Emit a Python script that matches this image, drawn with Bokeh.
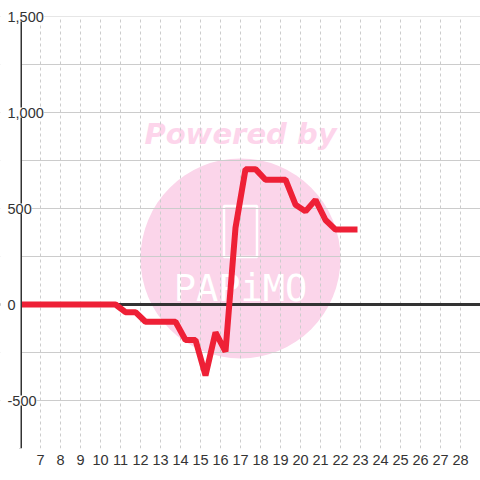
from bokeh.plotting import figure
from bokeh.models import (Range1d, FixedTicker, Grid, Span, LabelSet,
                          BoxAnnotation, ColumnDataSource)
from bokeh.embed import file_html
from bokeh.resources import INLINE
from bokeh.core.properties import value

# ---- data ----
x_vals = [6, 10.75, 11.25, 11.75, 12.25, 13.75, 14.25, 14.75, 15.25, 15.75,
          16.25, 16.75, 17.25, 17.75, 18.25, 19.25, 19.75, 20.25, 20.75,
          21.25, 21.75, 22.85]
y_vals = [0, 0, -40, -40, -90, -90, -185, -185, -370, -145,
          -245, 400, 705, 705, 650, 650, 520, 485, 545,
          440, 390, 390]
x_ticks = list(range(7, 29))
x_tick_labels = [str(t) for t in x_ticks]
y_grid_ticks = [-750, -500, -250, 0, 250, 500, 750, 1000, 1250, 1500]
y_label_ticks = [1500, 1000, 500, 0, -500]
y_tick_labels = ["1,500", "1,000", "500", "0", "-500"]

AXIS_X = 6
Y_MIN, Y_MAX = -750, 1500
X_START, X_END = 5, 29
Y_START, Y_END = -750, 1500 + 16 / 0.192

p = figure(width=480, height=480, output_backend="svg", toolbar_location=None,
           x_range=Range1d(X_START, X_END), y_range=Range1d(Y_START, Y_END),
           y_axis_location=None,
           min_border_left=0, min_border_right=0, min_border_top=0,
           min_border_bottom=32)
p.outline_line_color = None
p.background_fill_color = "white"
p.border_fill_color = "white"

# watermark (below grid)
p.circle(x=[17], y=[240], radius=100, radius_units="screen",
         fill_color="#FBD5EA", line_color=None, level="image")
p.rect(x=[17], y=[380], width=33, height=51, width_units="screen",
       height_units="screen", fill_color=None, line_color="white",
       line_width=2.5, level="image")
p.text(x=[17], y=[85], text=["PAPiMO"], text_font=value("DejaVu Sans Mono"),
       text_font_size="37px", text_color="white", text_align="center",
       text_baseline="middle", level="image")
p.text(x=[17], y=[890], text=["Powered by"], text_font=value("DejaVu Sans"),
       text_font_style="bold italic", text_font_size="29px",
       text_color="#FDD5EB", text_align="center", text_baseline="middle",
       level="image")

# x axis
p.xaxis.ticker = FixedTicker(ticks=x_ticks)
p.xaxis.major_label_overrides = {t: l for t, l in zip(x_ticks, x_tick_labels)}
p.xaxis.axis_line_color = None
p.xaxis.major_tick_line_color = None
p.xaxis.minor_tick_line_color = None
p.xaxis.major_tick_out = 0
p.xaxis.major_label_standoff = 6
p.xaxis.major_label_text_font = "Liberation Sans"
p.xaxis.major_label_text_font_size = "14.5px"
p.xaxis.major_label_text_color = "#333333"

p.xgrid.grid_line_color = "#cccccc"
p.xgrid.grid_line_dash = "3 3"
p.xgrid.grid_line_width = 1

p.add_layout(Grid(dimension=1, ticker=FixedTicker(ticks=y_grid_ticks),
                  grid_line_color="#cccccc", grid_line_width=1), "center")

# zero line
p.add_layout(Span(location=0, dimension="width", line_color="#333333",
                  line_width=3, level="underlay"))

# blank out area left of the y axis and above the top
p.add_layout(BoxAnnotation(right=AXIS_X, fill_color="white", fill_alpha=1,
                           line_color=None, level="glyph"))
p.add_layout(BoxAnnotation(bottom=Y_MAX, fill_color="white", fill_alpha=1,
                           line_color=None, level="glyph"))

# data line
p.line(x_vals, y_vals, line_color="#EE2036", line_width=6)

# y axis line
p.line([AXIS_X, AXIS_X], [Y_MIN, Y_MAX], line_color="#333333", line_width=3)

# y tick labels with white background
ysrc = ColumnDataSource(dict(x=[AXIS_X] * len(y_label_ticks), y=y_label_ticks,
                             t=y_tick_labels))
p.add_layout(LabelSet(x="x", y="y", text="t", source=ysrc, x_offset=-13,
                      text_align="left", text_baseline="middle",
                      text_font=value("Liberation Sans"),
                      text_font_size="14.5px", text_color="#333333",
                      background_fill_color="white"))

open("out.html", "w").write(file_html(p, INLINE))
